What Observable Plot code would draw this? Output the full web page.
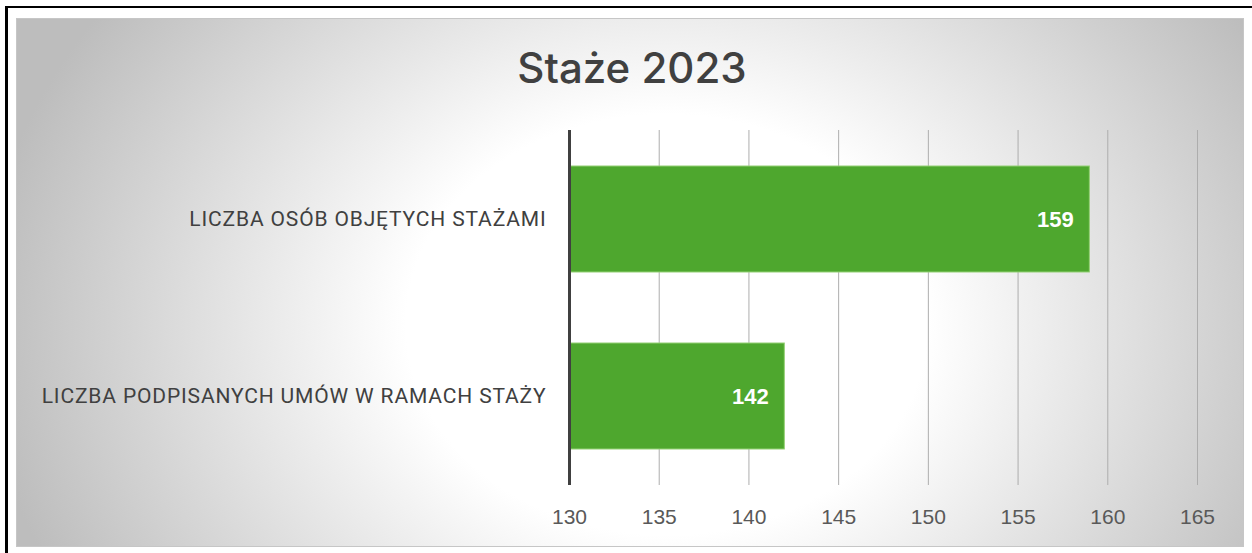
<!DOCTYPE html>
<html>
<head>
<meta charset="utf-8">
<script src="https://cdn.jsdelivr.net/npm/d3@7"></script>
<script src="https://cdn.jsdelivr.net/npm/@observablehq/plot@0.6"></script>
<style>
  html, body { margin: 0; padding: 0; background: #fff; }
  #page { position: relative; width: 1252px; height: 553px; overflow: hidden; }
  #frame { position: absolute; left: 5px; top: 6px; width: 1300px; height: 600px;
           border-left: 3px solid #000; border-top: 2px solid #000; box-sizing: border-box; }
  #panel { position: absolute; left: 16px; top: 18px; width: 1228px; height: 529px; box-sizing: border-box;
           border: 1px solid #c6c6c6;
           background: radial-gradient(ellipse 56% 105% at 53% 58%, #ffffff 0%, #ffffff 38%, #bdbdbd 100%); }
  #title { position: absolute; left: 16px; width: 1232px; top: 40px; text-align: center;
           font-family: Inter, "Noto Sans", sans-serif; font-weight: 500; font-size: 42px;
           color: #404040; line-height: 56px; }
  #chart { position: absolute; left: 0; top: 100px; }
  #chart g[aria-label="y-axis tick label"] text { letter-spacing: 0.85px; }
</style>
</head>
<body>
<div id="page">
  <div id="frame"></div>
  <div id="panel"></div>
  <div id="title">Staże 2023</div>
  <div id="chart"></div>
</div>
<script>
const categories = ["LICZBA OSÓB OBJĘTYCH STAŻAMI", "LICZBA PODPISANYCH UMÓW W RAMACH STAŻY"];
const values = [159, 142];
const xTicks = [130, 135, 140, 145, 150, 155, 160, 165];

const data = categories.map((c, i) => ({category: c, value: values[i]}));

const chart = Plot.plot({
  width: 1252,
  height: 453,
  marginLeft: 569,
  marginRight: 55,
  marginTop: 30,
  marginBottom: 68,
  style: {background: "transparent", fontFamily: "'Liberation Sans', Arial, sans-serif"},
  x: {domain: [xTicks[0], xTicks[xTicks.length - 1]]},
  y: {domain: categories, paddingInner: 0.4, paddingOuter: 0.2},
  marks: [
    Plot.gridX(xTicks, {stroke: "#adadad", strokeOpacity: 1, strokeWidth: 1}),
    Plot.barX(data, {y: "category", x1: () => xTicks[0], x2: "value", fill: "#4ea72e", stroke: "#93d074", strokeWidth: 1}),
    Plot.ruleX([xTicks[0]], {stroke: "#404040", strokeWidth: 3}),
    Plot.text(data, {y: "category", x: "value", text: d => String(d.value), textAnchor: "end", dx: -16,
      fill: "#ffffff", fontWeight: "bold", fontSize: 22, fontFamily: "'Liberation Sans', Arial, sans-serif"}),
    Plot.axisX({ticks: xTicks, tickSize: 0, tickPadding: 24, fontSize: 21, color: "#595959", label: null,
      fontFamily: "'Liberation Sans', Arial, sans-serif"}),
    Plot.axisY({tickSize: 0, tickPadding: 23, fontSize: 21, color: "#404040", label: null,
      fontFamily: "Roboto, sans-serif"})
  ]
});
document.getElementById("chart").appendChild(chart);
</script>
</body>
</html>
